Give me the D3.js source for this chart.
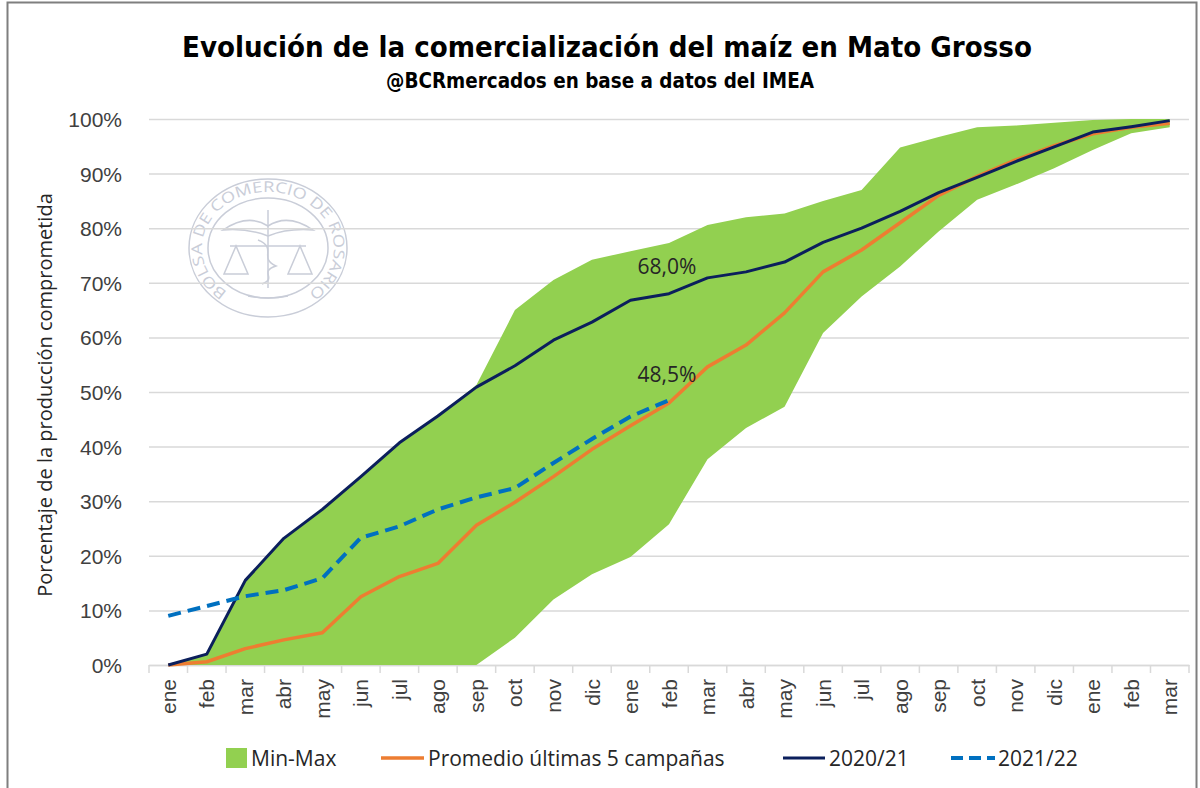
<!DOCTYPE html>
<meta charset="utf-8">
<style>
body { margin: 0; background: #fff; }
svg { font-family: "Open Sans", sans-serif; }
.axis text { fill: #404040; font-size: 21px; }
.grid line { stroke: #d9d9d9; stroke-width: 1.5; }
.grid .domain { display: none; }
.legend text { fill: #262626; font-size: 21px; }
</style>
<svg width="1200" height="788"></svg>
<script src="https://cdn.jsdelivr.net/npm/d3@7"></script>
<script>

var months = ["ene","feb","mar","abr","may","jun","jul","ago","sep","oct","nov","dic",
              "ene","feb","mar","abr","may","jun","jul","ago","sep","oct","nov","dic",
              "ene","feb","mar"];

var serie2020 = [0,2,15.5,23.2,28.5,34.5,40.7,45.6,50.9,54.8,59.5,62.8,66.8,68.0,70.9,72.0,73.8,77.4,80.0,83.1,86.5,89.3,92.2,94.9,97.6,98.6,99.7];
var promedio = [0,0.6,3.0,4.6,5.9,12.5,16.2,18.6,25.6,29.8,34.5,39.5,43.8,48.0,54.6,58.6,64.5,72.0,76.0,81.0,86.0,89.5,92.5,95.1,97.3,98.5,99.2];
var serie2021 = [9.0,10.8,12.6,13.7,15.9,23.3,25.4,28.5,30.7,32.4,37.0,41.4,45.5,48.5];
var maxVals = [0,2,15.5,23.2,28.5,34.5,40.7,45.6,51.3,65.0,70.5,74.2,75.8,77.3,80.6,82.0,82.7,85.0,87.0,94.8,96.7,98.5,98.8,99.3,99.8,100,100];
var minVals = [0,0,0,0,0,0,0,0,0,5.0,12.0,16.6,19.8,25.8,37.7,43.4,47.3,60.8,67.5,73.0,79.4,85.2,88.0,91.0,94.3,97.4,98.5];
var yTicks = [0,10,20,30,40,50,60,70,80,90,100];

var svg = d3.select("svg"),
    margin = {top: 119, right: 11, bottom: 123, left: 149},
    width = +svg.attr("width") - margin.left - margin.right,
    height = +svg.attr("height") - margin.top - margin.bottom;

// image frame
svg.append("rect")
    .attr("x", 7.5).attr("y", 2.5)
    .attr("width", 1189).attr("height", 800)
    .attr("fill", "none").attr("stroke", "#7f7f7f").attr("stroke-width", 2);

// size a heading so it spans the wanted width
function fitText(sel, target, size) {
  sel.style("font-size", size + "px");
  var w = sel.node().getComputedTextLength();
  sel.style("font-size", (size * target / w).toFixed(2) + "px");
}

var title = svg.append("text")
    .attr("x", 607).attr("y", 57)
    .attr("text-anchor", "middle")
    .style("font-family", "'DejaVu Sans Condensed', 'DejaVu Sans', sans-serif")
    .style("font-weight", "bold")
    .text("Evolución de la comercialización del maíz en Mato Grosso");
fitText(title, 850, 30);

var subtitle = svg.append("text")
    .attr("x", 600).attr("y", 88)
    .attr("text-anchor", "middle")
    .style("font-family", "'DejaVu Sans Condensed', 'DejaVu Sans', sans-serif")
    .style("font-weight", "bold")
    .text("@BCRmercados en base a datos del IMEA");
fitText(subtitle, 428, 18);

var idx = d3.range(months.length);
var x = d3.scaleBand().domain(idx).range([0, width]).padding(0),
    y = d3.scaleLinear().domain([0, 100]).range([height, 0]);
var cx = function(i) { return x(i) + x.bandwidth() / 2; };

var g = svg.append("g")
    .attr("transform", "translate(" + margin.left + "," + margin.top + ")");

// watermark
var wm = g.append("g").attr("transform", "translate(119,129)")
    .attr("fill", "none").attr("stroke", "#c9cdd8").attr("stroke-width", 1.5);
wm.append("ellipse").attr("rx", 79).attr("ry", 69);
wm.append("ellipse").attr("rx", 60).attr("ry", 50);
var a0 = 128 * Math.PI / 180, a1 = 52 * Math.PI / 180, rx = 66, ry = 56;
wm.append("path").attr("id", "wmarc").attr("stroke", "none")
    .attr("d", "M" + rx * Math.cos(a0) + "," + ry * Math.sin(a0) +
               " A" + rx + "," + ry + " 0 1 1 " + rx * Math.cos(a1) + "," + ry * Math.sin(a1));
wm.append("text").attr("stroke", "none").attr("fill", "#c9cdd8")
    .style("font-size", "15px")
  .append("textPath").attr("href", "#wmarc")
    .attr("textLength", 298).attr("lengthAdjust", "spacingAndGlyphs")
    .text("BOLSA DE COMERCIO DE ROSARIO");
wm.append("path").attr("d", "M-45,-18 Q-20,-35 0,-22 Q20,-35 45,-18 Q20,-20 0,-12 Q-20,-20 -45,-18Z");
wm.append("path").attr("d", "M0,-38 L0,40");
wm.append("path").attr("d", "M-38,-2 L38,-2");
wm.append("path").attr("d", "M-32,-2 L-44,26 L-20,26 Z M32,-2 L20,26 L44,26 Z");
wm.append("path").attr("d", "M-10,-8 C10,0 -10,10 8,18 C-10,24 10,30 -6,36");
wm.append("path").attr("d", "M-20,48 Q0,52 20,48");

// grid + y axis
g.append("g")
    .attr("class", "grid axis")
    .call(d3.axisLeft(y).tickValues(yTicks).tickSize(-width).tickPadding(27)
      .tickFormat(function(d) { return d + "%"; }))
  .selectAll("text").attr("dy", "0.36em");

// x axis
var xAxis = g.append("g")
    .attr("class", "axis")
    .attr("transform", "translate(0," + height + ")")
    .call(d3.axisBottom(x).tickSize(0).tickFormat(function(i) { return months[i]; }));
xAxis.select(".domain").attr("stroke", "#d9d9d9").attr("stroke-width", 1.5);
xAxis.selectAll("text")
    .attr("transform", "rotate(-90)")
    .attr("text-anchor", "end")
    .attr("x", -14).attr("y", 0).attr("dy", "0.36em");
xAxis.selectAll(".bound")
    .data(idx.concat([months.length]))
  .enter().append("line")
    .attr("class", "bound")
    .attr("x1", function(i) { return i < months.length ? x(i) : width; })
    .attr("x2", function(i) { return i < months.length ? x(i) : width; })
    .attr("y1", 0).attr("y2", 8)
    .attr("stroke", "#d9d9d9").attr("stroke-width", 1.5);

// min-max band
var area = d3.area()
    .x(function(d, i) { return cx(i); })
    .y0(function(d, i) { return y(minVals[i]); })
    .y1(function(d) { return y(d); });
g.append("path").datum(maxVals)
    .attr("fill", "#92d050").attr("d", area);

var line = d3.line()
    .x(function(d, i) { return cx(i); })
    .y(function(d) { return y(d); });

g.append("path").datum(promedio)
    .attr("fill", "none").attr("stroke", "#ed7d31").attr("stroke-width", 3.5)
    .attr("stroke-linejoin", "round").attr("d", line);

g.append("path").datum(serie2020)
    .attr("fill", "none").attr("stroke", "#0b1f5c").attr("stroke-width", 3)
    .attr("stroke-linejoin", "round").attr("d", line);

g.append("path").datum(serie2021)
    .attr("fill", "none").attr("stroke", "#0070c0").attr("stroke-width", 4)
    .attr("stroke-dasharray", "13,7").attr("d", line);

// data labels
var lastIdx = serie2021.length - 1;
g.append("text")
    .attr("x", cx(lastIdx) - 2).attr("y", y(serie2020[lastIdx]) - 20)
    .attr("text-anchor", "middle").attr("fill", "#262626").style("font-size", "21px")
    .text(serie2020[lastIdx].toFixed(1).replace(".", ",") + "%");
g.append("text")
    .attr("x", cx(lastIdx) - 2).attr("y", y(serie2021[lastIdx]) - 18)
    .attr("text-anchor", "middle").attr("fill", "#262626").style("font-size", "21px")
    .text(serie2021[lastIdx].toFixed(1).replace(".", ",") + "%");

// legend
var legend = svg.append("g").attr("class", "legend").attr("transform", "translate(0,758)");
legend.append("rect").attr("x", 226).attr("y", -10).attr("width", 21).attr("height", 20).attr("fill", "#92d050");
legend.append("text").attr("x", 251).attr("dy", "0.36em").text("Min-Max");
legend.append("line").attr("x1", 381).attr("x2", 424).attr("stroke", "#ed7d31").attr("stroke-width", 3.5);
legend.append("text").attr("x", 428).attr("dy", "0.36em").text("Promedio últimas 5 campañas");
legend.append("line").attr("x1", 783).attr("x2", 825).attr("stroke", "#0b1f5c").attr("stroke-width", 3);
legend.append("text").attr("x", 829).attr("dy", "0.36em").text("2020/21");
legend.append("line").attr("x1", 951).attr("x2", 995).attr("stroke", "#0070c0").attr("stroke-width", 4)
    .attr("stroke-dasharray", "12,6");
legend.append("text").attr("x", 998).attr("dy", "0.36em").text("2021/22");

// y axis title
svg.append("text")
    .attr("transform", "translate(52,395) rotate(-90)")
    .attr("text-anchor", "middle").attr("fill", "#262626").style("font-size", "20px")
    .text("Porcentaje de la producción comprometida");

</script>
